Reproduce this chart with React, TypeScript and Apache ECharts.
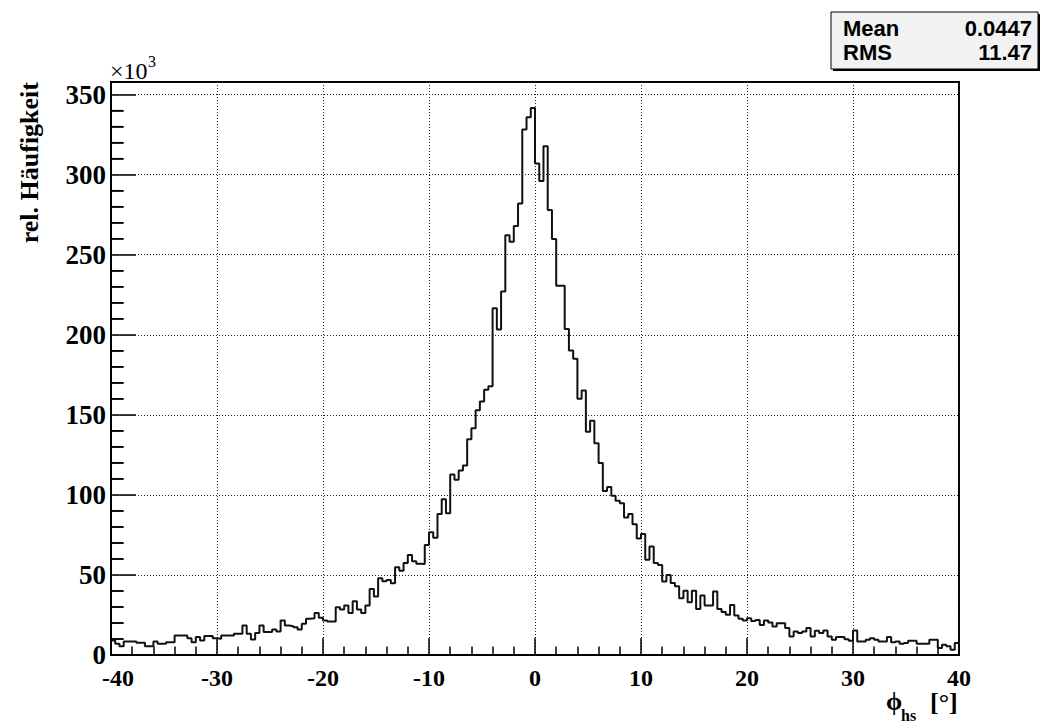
import React, { useEffect, useRef } from "react";
import * as echarts from "echarts";

// Histogram definition: 200 bins of 0.4 degree from -40 to 40
const BIN_LOW = -40;
const BIN_WIDTH = 0.4;

// Bin contents in units of 10^3
const counts: number[] = [
  9.1, 7.0, 5.5, 8.5, 8.5, 8.5, 7.7, 7.7, 5.4, 5.4,
  8.5, 7.0, 7.0, 8.0, 8.0, 12.2, 12.2, 12.2, 10.5, 8.0,
  11.2, 9.1, 11.8, 11.8, 10.5, 10.1, 12.2, 12.2, 12.2, 13.2,
  13.2, 18.4, 13.2, 9.7, 13.7, 18.4, 14.3, 14.3, 15.9, 14.7,
  21.5, 18.4, 18.0, 17.4, 15.9, 19.5, 22.6, 23.0, 26.3, 23.2,
  21.6, 21.0, 21.0, 29.9, 28.4, 30.9, 26.3, 33.6, 28.4, 26.3,
  30.9, 41.3, 36.5, 47.9, 46.0, 46.9, 44.8, 54.8, 52.7, 57.5,
  62.4, 58.5, 57.0, 56.8, 68.7, 76.6, 73.2, 88.0, 97.3, 88.6,
  112.8, 109.5, 115.2, 118.3, 134.8, 141.6, 152.9, 158.4, 165.6, 167.9,
  216.6, 203.3, 227.0, 262.2, 258.1, 268.0, 282.0, 328.2, 335.9, 341.7,
  307.0, 296.0, 317.8, 278.0, 259.8, 230.7, 230.7, 203.7, 190.2, 185.0,
  160.0, 165.2, 139.5, 146.3, 132.3, 120.0, 102.5, 105.0, 99.4, 96.3,
  94.8, 85.9, 88.0, 81.7, 72.8, 75.5, 59.5, 67.8, 57.5, 56.2,
  45.9, 50.0, 45.0, 42.9, 35.5, 40.2, 33.0, 40.2, 28.8, 37.1,
  30.9, 30.9, 39.6, 28.8, 26.8, 25.1, 31.3, 24.7, 22.6, 21.6,
  23.0, 21.3, 21.9, 18.8, 21.5, 20.3, 17.8, 19.9, 19.9, 16.8,
  11.6, 14.7, 13.7, 14.7, 16.8, 11.6, 15.1, 13.7, 15.3, 11.6,
  9.5, 11.2, 11.2, 9.9, 8.9, 15.3, 8.5, 8.5, 9.5, 10.4,
  9.5, 8.5, 8.5, 11.2, 7.9, 8.5, 7.0, 7.5, 8.9, 8.9,
  7.0, 7.0, 7.0, 9.5, 9.5, 4.3, 6.4, 5.4, 3.3, 7.5,
];

const X_MIN = -40;
const X_MAX = 40;
const X_INTERVAL = 10;
const Y_MIN = 0;
const Y_MAX = 357.9;
const Y_MAJOR = 50;
const Y_MINOR_SPLIT = 5;
// minor tick values of the y axis (every 10 x 10^3)
const yMinorTicks: number[] = [
  10, 20, 30, 40, 60, 70, 80, 90, 110, 120, 130, 140, 160, 170, 180, 190,
  210, 220, 230, 240, 260, 270, 280, 290, 310, 320, 330, 340,
];

const statsLabels = ["Mean", "RMS"];
const statsValues = ["0.0447", "11.47"];
const yTitle = "rel. Häufigkeit";
const xTitleMain = "ϕ";
const xTitleSub = "hs";
const xTitleUnit = "[°]";
const yScaleText = "×10";
const yScaleExp = "3";

const SERIF = '"Liberation Serif", "Times New Roman", serif';
const SANS = '"Liberation Sans", Arial, sans-serif';

function txt(
  x: number,
  y: number,
  text: string,
  size: number,
  weight: string,
  family: string,
  align: string,
  extra: any = {}
) {
  return {
    type: "text",
    x,
    y,
    ...extra,
    style: {
      text,
      fontSize: size,
      fontWeight: weight,
      fontFamily: family,
      fill: "#000",
      align,
      verticalAlign: "middle",
    },
  };
}

export default function App() {
  const ref = useRef<HTMLDivElement>(null);

  useEffect(() => {
    if (!ref.current) return;
    const chart = echarts.init(ref.current, null, { renderer: "svg" });

    const stepData: number[][] = counts.map((v, i) => [BIN_LOW + i * BIN_WIDTH, v]);
    stepData.push([BIN_LOW + counts.length * BIN_WIDTH, counts[counts.length - 1]]);

    const dotted = { color: "#222", width: 1, type: [1, 2] };

    const option: any = {
      animation: false,
      backgroundColor: "#ffffff",
      grid: {
        left: 111,
        right: 84,
        top: 82,
        bottom: 69,
        show: true,
        borderColor: "#000",
        borderWidth: 2,
        backgroundColor: "transparent",
        containLabel: false,
      },
      xAxis: {
        type: "value",
        min: X_MIN,
        max: X_MAX,
        interval: X_INTERVAL,
        axisLine: { show: true, onZero: false, lineStyle: { color: "#000", width: 2 } },
        axisTick: { show: true, inside: true, length: 17, lineStyle: { color: "#000", width: 1.5 } },
        minorTick: { show: true, splitNumber: 5, length: 8.5, lineStyle: { color: "#000", width: 1.5 } },
        splitLine: { show: true, lineStyle: dotted },
        axisLabel: {
          show: true,
          margin: 11,
          color: "#000",
          fontFamily: SERIF,
          fontWeight: "bold",
          fontSize: 24,
          formatter: (v: number) => (v === X_MIN ? "{first|" + v + "}" : String(v)),
          rich: {
            first: {
              fontFamily: SERIF,
              fontWeight: "bold",
              fontSize: 24,
              color: "#000",
              padding: [0, 0, 0, 14],
            },
          },
        },
      },
      yAxis: {
        type: "value",
        min: Y_MIN,
        max: Y_MAX,
        interval: Y_MAJOR,
        axisLine: { show: true, onZero: false, lineStyle: { color: "#000", width: 2 } },
        axisTick: { show: true, inside: true, length: 25, lineStyle: { color: "#000", width: 1.5 } },
        minorTick: {
          show: true,
          splitNumber: Y_MINOR_SPLIT,
          length: 12.5,
          lineStyle: { color: "#000", width: 1.5 },
        },
        splitLine: { show: true, lineStyle: dotted },
        axisLabel: {
          show: true,
          margin: 5,
          color: "#000",
          fontFamily: SERIF,
          fontWeight: "bold",
          fontSize: 27,
          showMaxLabel: false,
          formatter: (v: number) => (Math.abs(v % Y_MAJOR) < 1e-6 ? String(Math.round(v)) : ""),
        },
      },
      series: [
        {
          type: "line",
          data: stepData,
          step: "end",
          symbol: "none",
          lineStyle: { color: "#111", width: 2 },
          z: 5,
        },
        {
          // y-axis minor ticks placed through the axis scale (coincide with axis minor ticks)
          type: "custom",
          silent: true,
          clip: false,
          z: 6,
          data: yMinorTicks.map((v) => [X_MIN, v]),
          renderItem: (params: any, api: any) => {
            const p = api.coord([api.value(0), api.value(1)]);
            return {
              type: "line",
              shape: { x1: p[0], y1: p[1], x2: p[0] + 12.5, y2: p[1] },
              style: { stroke: "#000", lineWidth: 1.5 },
            };
          },
        },
      ],
      graphic: [
        // ×10^3 scale marker
        txt(110, 71, yScaleText, 24, "normal", SERIF, "left"),
        txt(148, 61, yScaleExp, 16, "normal", SERIF, "left"),
        // y-axis title
        txt(29, 82, yTitle, 26, "bold", SERIF, "right", { rotation: Math.PI / 2 }),
        // x-axis title
        txt(886, 701, xTitleMain, 26, "bold", SERIF, "left"),
        txt(901, 715, xTitleSub, 16, "bold", SERIF, "left"),
        txt(930, 702, xTitleUnit, 26, "bold", SERIF, "left"),
        // statistics box (shadow + box)
        {
          type: "rect",
          shape: { x: 833, y: 14, width: 207, height: 57 },
          style: { fill: "#000" },
        },
        {
          type: "rect",
          shape: { x: 831, y: 12, width: 207, height: 57 },
          style: { fill: "#f2f2f2", stroke: "#000", lineWidth: 1 },
        },
        txt(843, 28, statsLabels[0], 22, "bold", SANS, "left"),
        txt(1032, 28, statsValues[0], 22, "bold", SANS, "right"),
        txt(843, 52, statsLabels[1], 22, "bold", SANS, "left"),
        txt(1032, 52, statsValues[1], 22, "bold", SANS, "right"),
      ],
    };

    chart.setOption(option);
    return () => chart.dispose();
  }, []);

  return (
    <div
      ref={ref}
      style={{ position: "absolute", left: 0, top: 0, width: 1043, height: 724, background: "#fff" }}
    />
  );
}
